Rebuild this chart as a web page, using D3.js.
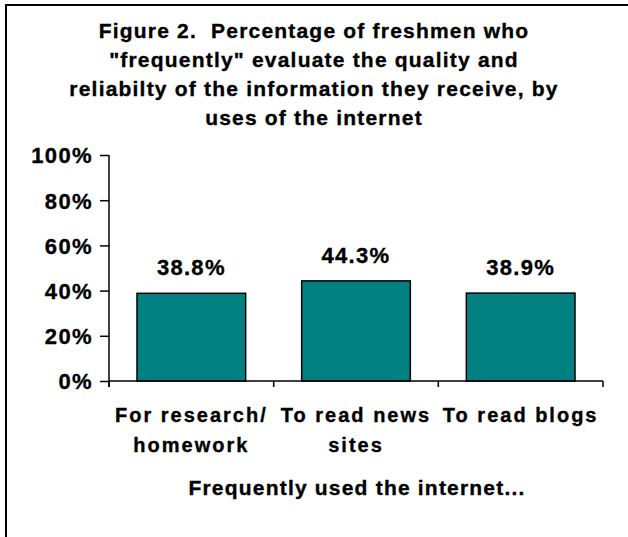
<!DOCTYPE html>
<html>
<head>
<meta charset="utf-8">
<script src="https://cdn.jsdelivr.net/npm/d3@7"></script>
<style>
  html, body { margin: 0; padding: 0; background: #fff; }
  svg { display: block; }
  text { font-family: "Liberation Sans", Arial, sans-serif; font-weight: bold; fill: #000; white-space: pre; stroke: #000; stroke-width: 0.35px; }
</style>
</head>
<body>
<svg id="chart" width="628" height="537"></svg>
<script>
const titleLines = [
  "Figure 2.  Percentage of freshmen who",
  "\"frequently\" evaluate the quality and",
  "reliabilty of the information they receive, by",
  "uses of the internet"
];
const categories = ["For research/ homework", "To read news sites", "To read blogs"];
const categoryLines = [["For research/", "homework"], ["To read news", "sites"], ["To read blogs"]];
const values = [38.8, 44.3, 38.9];
const valueLabels = ["38.8%", "44.3%", "38.9%"];
const yTicks = [0, 20, 40, 60, 80, 100];
const yTickLabels = ["0%", "20%", "40%", "60%", "80%", "100%"];
const xAxisTitle = "Frequently used the internet...";

const svg = d3.select("#chart");
const W = 628, H = 537;

// frame (top and left edges visible, extends past right/bottom)
svg.append("rect")
  .attr("x", 6).attr("y", 5).attr("width", 700).attr("height", 700)
  .attr("fill", "none").attr("stroke", "#000").attr("stroke-width", 2);

// title
const title = svg.append("text")
  .attr("text-anchor", "middle")
  .style("font-size", "21px")
  .style("letter-spacing", "1.2px");
titleLines.forEach((t, i) => {
  title.append("tspan").attr("x", 314).attr("y", 38 + i * 29).text(t);
});

const plotLeft = 109, plotRight = 603, plotTop = 155, plotBottom = 381;

const x = d3.scaleBand()
  .domain(categories)
  .range([plotLeft, plotRight])
  .paddingInner(0.34)
  .paddingOuter(0.17);

const y = d3.scaleLinear().domain([0, 100]).range([plotBottom, plotTop]);

// bars
svg.append("g").selectAll("rect")
  .data(values)
  .join("rect")
  .attr("x", (d, i) => x(categories[i]))
  .attr("y", d => y(d))
  .attr("width", x.bandwidth())
  .attr("height", d => y(0) - y(d))
  .attr("fill", "#008080")
  .attr("stroke", "#000")
  .attr("stroke-width", 1.5);

// y axis
const yAxis = svg.append("g")
  .attr("transform", `translate(${plotLeft},0)`)
  .call(d3.axisLeft(y).tickValues(yTicks).tickSize(9).tickPadding(7)
    .tickFormat((d, i) => yTickLabels[i]));
yAxis.select(".domain").attr("stroke", "#000").attr("stroke-width", 1.5)
  .attr("d", `M0,${plotTop}V${plotBottom + 6}`);
yAxis.selectAll(".tick line").attr("stroke", "#000").attr("stroke-width", 1.5);
yAxis.selectAll(".tick text")
  .style("font-family", "'Liberation Sans', Arial, sans-serif")
  .style("font-weight", "bold")
  .style("font-size", "22px")
  .style("letter-spacing", "1.4px")
  .attr("fill", "#000")
  .attr("dy", "0.36em");

// x axis line and ticks at band boundaries
const xg = svg.append("g");
xg.append("line")
  .attr("x1", plotLeft).attr("x2", plotRight)
  .attr("y1", plotBottom).attr("y2", plotBottom)
  .attr("stroke", "#000").attr("stroke-width", 1.5);
const boundaries = d3.range(categories.length + 1).map(i =>
  x.range()[0] + i * (x.range()[1] - x.range()[0]) / categories.length);
xg.selectAll("line.tk")
  .data(boundaries)
  .join("line")
  .attr("class", "tk")
  .attr("x1", d => d).attr("x2", d => d)
  .attr("y1", plotBottom).attr("y2", plotBottom + 6)
  .attr("stroke", "#000").attr("stroke-width", 1.5);

// value labels
svg.append("g").selectAll("text")
  .data(values)
  .join("text")
  .attr("x", (d, i) => x(categories[i]) + x.bandwidth() / 2)
  .attr("y", d => y(d) - 18)
  .attr("text-anchor", "middle")
  .style("font-size", "22px")
  .style("letter-spacing", "1.3px")
  .text((d, i) => valueLabels[i]);

// category labels
const cl = svg.append("g").selectAll("text")
  .data(categories)
  .join("text")
  .attr("text-anchor", "middle")
  .style("font-size", "20px")
  .style("letter-spacing", "2px");
cl.each(function(d, i) {
  const cx = x(d) + x.bandwidth() / 2;
  categoryLines[i].forEach((line, j) => {
    d3.select(this).append("tspan").attr("x", cx).attr("y", 422 + j * 30).text(line);
  });
});

// x axis title
svg.append("text")
  .attr("x", 357).attr("y", 495)
  .attr("text-anchor", "middle")
  .style("font-size", "21px")
  .style("letter-spacing", "1.2px")
  .text(xAxisTitle);
</script>
</body>
</html>
